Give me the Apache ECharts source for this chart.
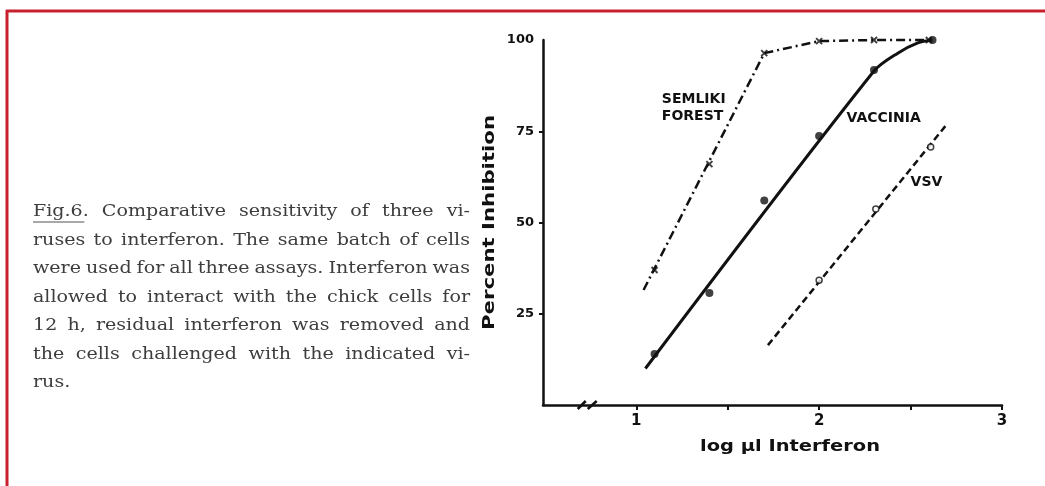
<!DOCTYPE html>
<html><head><meta charset="utf-8">
<script src="https://cdn.jsdelivr.net/npm/echarts@6/dist/echarts.min.js"></script>
<style>html,body{margin:0;padding:0;background:#fff}#c{width:1045px;height:486px}</style>
</head><body><div id="c"></div>
<script>
// ---- data ----
const xTicks = [1, 1.5, 2, 2.5, 3];
const xTickLabels = [1, 2, 3];
const yTickLabels = [25, 50, 75, 100];
const semlikiPoints = [[1.1, 37], [1.4, 66], [1.7, 96.4], [2.0, 99.7], [2.3, 100], [2.6, 100]];
const semlikiLine = [[1.04, 31.5], [1.7, 96.4], [2.0, 99.7], [2.3, 100], [2.62, 100]];
const vacciniaPoints = [[1.1, 14], [1.4, 30.7], [1.7, 56], [2.0, 73.7], [2.3, 91.8], [2.62, 100]];
const vacciniaLine = [[1.05, 10], [2.3, 91.5], [2.43, 96.4], [2.54, 99.2], [2.62, 100]];
const vsvPoints = [[2.0, 34.2], [2.31, 53.7], [2.61, 70.7]];
const vsvLine = [[1.72, 16.4], [2.69, 76.4]];
const seriesLabels = [
  {text: 'SEMLIKI\nFOREST', at: [1.14, 81.5]},
  {text: 'VACCINIA', at: [2.15, 78.5]},
  {text: 'VSV', at: [2.5, 61]}
];
const xAxisName = 'log µl Interferon';
const yAxisName = 'Percent Inhibition';
const axisBreakAt = 0.74;
const captionLines = [
  'Fig.6. Comparative sensitivity of three vi-',
  'ruses to interferon. The same batch of cells',
  'were used for all three assays. Interferon was',
  'allowed to interact with the chick cells for',
  '12 h,  residual interferon was removed and',
  'the cells challenged with the indicated vi-',
  'rus.'
];

const chart = echarts.init(document.getElementById('c'), null, {renderer: 'canvas'});
const ink = '#111';
const lab = 'DejaVu Sans';

chart.setOption({
  backgroundColor: '#fff',
  animation: false,
  grid: {left: 543, right: 43, top: 40, bottom: 81, containLabel: false},
  xAxis: {
    type: 'value', min: 0.49, max: 3,
    axisLine: {show: true, lineStyle: {color: ink, width: 2.5}},
    splitLine: {show: false},
    axisTick: {show: true, customValues: xTicks, length: 5, lineStyle: {color: ink, width: 2}},
    axisLabel: {customValues: xTickLabels, margin: 9, color: ink, fontFamily: lab, fontWeight: 'bold', fontSize: 15}
  },
  yAxis: {
    type: 'value', min: 0, max: 100,
    axisLine: {show: true, lineStyle: {color: ink, width: 2.5}},
    splitLine: {show: false},
    axisTick: {show: true, customValues: [25, 50, 75], length: 4, lineStyle: {color: ink, width: 2}},
    axisLabel: {customValues: yTickLabels, margin: 9, color: ink, fontFamily: lab, fontWeight: 'bold', fontSize: 13}
  },
  series: [
    {name: 'Semliki Forest', type: 'line', data: semlikiLine, symbol: 'none', clip: false,
      lineStyle: {color: ink, width: 2.5, type: [9, 4, 2, 4]}},
    {name: 'Semliki Forest pts', type: 'scatter', data: semlikiPoints, clip: false,
      symbol: 'path://M0,0L10,10M10,0L0,10', symbolSize: 6,
      itemStyle: {color: 'none', borderColor: ink, borderWidth: 2}},
    {name: 'Vaccinia', type: 'line', data: vacciniaLine, symbol: 'none', smooth: 0.3, clip: false,
      lineStyle: {color: ink, width: 3}},
    {name: 'Vaccinia pts', type: 'scatter', data: vacciniaPoints, clip: false,
      symbol: 'circle', symbolSize: 8, itemStyle: {color: ink}},
    {name: 'VSV', type: 'line', data: vsvLine, symbol: 'none', clip: false,
      lineStyle: {color: ink, width: 2.5, type: [7, 4]}},
    {name: 'VSV pts', type: 'scatter', data: vsvPoints, clip: false, z: 3,
      symbol: 'circle', symbolSize: 6, itemStyle: {color: '#fff', borderColor: ink, borderWidth: 1.5}}
  ]
});

// ---- decorations: border, caption, labels, axis names, axis break ----
const g = [];
g.push({type: 'line', shape: {x1: 6, y1: 11, x2: 1045, y2: 11}, style: {stroke: '#c8202f', lineWidth: 3}});
g.push({type: 'line', shape: {x1: 7, y1: 10, x2: 7, y2: 486}, style: {stroke: '#c8202f', lineWidth: 3}});

const ctx = document.createElement('canvas').getContext('2d');

// caption: justified, horizontally stretched serif text
const capFont = '17px "DejaVu Serif"';
ctx.font = capFont;
const capLeft = 33, capRight = 470, capTop = 212, capStep = 28.5, minGap = 5;
const measured = captionLines.map(line => {
  const words = line.split(/\s+/);
  const widths = words.map(w => ctx.measureText(w).width);
  return {words, widths, total: widths.reduce((a, b) => a + b, 0)};
});
let sx = 1.3;
measured.slice(0, -1).forEach(m => {
  sx = Math.min(sx, (capRight - capLeft - minGap * (m.words.length - 1)) / m.total);
});
measured.forEach((m, i) => {
  const y = capTop + i * capStep;
  const last = i === measured.length - 1;
  const gap = last ? ctx.measureText(' ').width * sx : (capRight - capLeft - m.total * sx) / (m.words.length - 1);
  let x = capLeft;
  m.words.forEach((w, k) => {
    g.push({type: 'text', x: x, y: y, scaleX: sx, style: {text: w, font: capFont, fill: '#3d3d3d', verticalAlign: 'middle', align: 'left'}});
    if (i === 0 && k === 0) {
      g.push({type: 'line', shape: {x1: x, y1: y + 10, x2: x + (m.widths[k] - 4) * sx, y2: y + 10}, style: {stroke: '#555', lineWidth: 1.2}});
    }
    x += m.widths[k] * sx + gap;
  });
});

seriesLabels.forEach(l => {
  const p = chart.convertToPixel({gridIndex: 0}, l.at);
  g.push({type: 'text', x: p[0], y: p[1], style: {text: l.text, font: 'bold 14px "DejaVu Sans"', fill: ink, verticalAlign: 'middle', lineHeight: 17}});
});

// axis names (letter-spaced look via horizontal stretch)
const nameFont = 'bold 16px "DejaVu Sans"';
ctx.font = nameFont;
const xnW = ctx.measureText(xAxisName).width, ynW = ctx.measureText(yAxisName).width;
const xs = 180 / xnW, ys = 215 / ynW;
g.push({type: 'text', x: 790 - 90, y: 447, scaleX: xs, style: {text: xAxisName, font: nameFont, fill: ink, verticalAlign: 'middle', align: 'left'}});
g.push({type: 'text', x: 490, y: 330, rotation: Math.PI / 2, scaleX: ys, style: {text: yAxisName, font: nameFont, fill: ink, verticalAlign: 'middle', align: 'left'}});

const b = chart.convertToPixel({gridIndex: 0}, [axisBreakAt, 0]);
g.push({type: 'rect', shape: {x: b[0] - 7, y: b[1] - 3, width: 14, height: 6}, style: {fill: '#fff'}});
g.push({type: 'line', shape: {x1: b[0] - 11, y1: b[1] + 4, x2: b[0] - 3, y2: b[1] - 4}, style: {stroke: ink, lineWidth: 2.5}});
g.push({type: 'line', shape: {x1: b[0] - 1, y1: b[1] + 4, x2: b[0] + 8, y2: b[1] - 4}, style: {stroke: ink, lineWidth: 2.5}});

chart.setOption({graphic: {elements: g}});
</script>
</body></html>
